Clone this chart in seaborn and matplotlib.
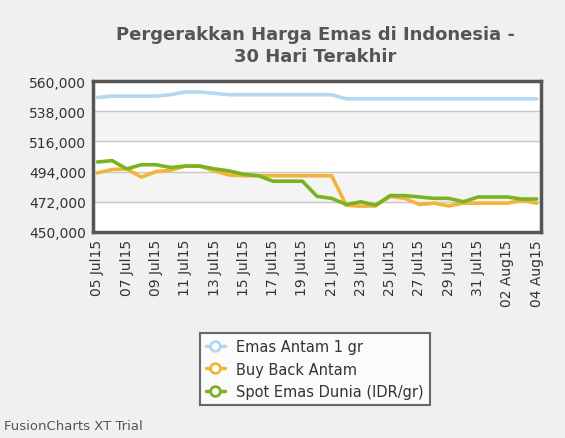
import matplotlib
matplotlib.use("Agg")
import matplotlib.pyplot as plt
import seaborn as sns
import pandas as pd
import numpy as np

dates = ["05 Jul15","06 Jul15","07 Jul15","08 Jul15","09 Jul15","10 Jul15","11 Jul15","12 Jul15",
         "13 Jul15","14 Jul15","15 Jul15","16 Jul15","17 Jul15","18 Jul15","19 Jul15","20 Jul15",
         "21 Jul15","22 Jul15","23 Jul15","24 Jul15","25 Jul15","26 Jul15","27 Jul15","28 Jul15",
         "29 Jul15","30 Jul15","31 Jul15","01 Aug15","02 Aug15","03 Aug15","04 Aug15"]
antam = [548000,549000,549000,549000,549000,550000,552000,552000,551000,550000,550000,550000,550000,
         550000,550000,550000,550000,547000,547000,547000,547000,547000,547000,547000,547000,547000,
         547000,547000,547000,547000,547000]
buyback = [493000,495500,496000,490000,494000,495000,498000,498000,494500,491500,491000,491000,491000,
           491000,491000,491000,491000,469500,468750,469000,476000,474500,470000,471000,469000,471000,
           471000,471000,471000,473000,471000]
spot = [501000,502000,496000,499000,499000,497000,498000,498000,496000,494500,492000,491000,487000,
        487000,487000,476000,474500,470000,472000,469500,476500,476500,475500,474500,474500,472000,
        475500,475500,475500,474000,474000]
series = ["Emas Antam 1 gr", "Buy Back Antam", "Spot Emas Dunia (IDR/gr)"]
colors = ["#b4d8f0", "#f2b53a", "#7cb21f"]
yticks = [450000,472000,494000,516000,538000,560000]

df = pd.DataFrame({"i": list(range(len(dates))) * 3,
                   "v": antam + buyback + spot,
                   "s": [series[0]]*31 + [series[1]]*31 + [series[2]]*31})

sns.set_style("white")
fig = plt.figure(figsize=(5.65, 4.39), dpi=100)
fig.patch.set_facecolor("#f0f0f0")
ax = fig.add_axes([93/565, 1-233/439, 448/565, 151/439])
ax.set_facecolor("white")
for lo, hi in [(472000,494000),(516000,538000)]:
    ax.axhspan(lo, hi, color="#f4f4f4", zorder=0)
sns.lineplot(data=df, x="i", y="v", hue="s", palette=colors, linewidth=2.6, ax=ax, legend=False, zorder=3)
ax.set_ylim(450000, 560000)
ax.set_xlim(-0.3, 30.3)
ax.set_yticks(yticks)
ax.set_yticklabels([f"{t:,}" for t in yticks], fontsize=10, color="#333333")
ax.yaxis.grid(True, color="#c8c8c8", linewidth=1)
ax.set_xticks(list(range(0, 31, 2)))
ax.set_xticklabels(dates[::2], rotation=90, fontsize=10, color="#333333")
ax.tick_params(length=0, pad=5)
ax.set_xlabel(""); ax.set_ylabel("")
for s in ax.spines.values():
    s.set_color("#555555"); s.set_linewidth(2.5)

fig.text(315/565, 1-35/439, "Pergerakkan Harga Emas di Indonesia -", ha="center", va="center",
         fontsize=13, fontweight="bold", color="#555555")
fig.text(315/565, 1-57/439, "30 Hari Terakhir", ha="center", va="center",
         fontsize=13, fontweight="bold", color="#555555")

from matplotlib.lines import Line2D
handles = [Line2D([0],[0], color=c, lw=2.5, marker="o", markersize=7, markerfacecolor="white",
                  markeredgecolor=c, markeredgewidth=2) for c in colors]
leg = fig.legend(handles, series, loc="center", bbox_to_anchor=(315/565, 1-370/439), fontsize=10.5,
                 frameon=True, fancybox=False, handlelength=1.3, labelspacing=0.5)
leg.get_frame().set_edgecolor("#444444"); leg.get_frame().set_linewidth(1.5)
leg.get_frame().set_facecolor("white")
for t in leg.get_texts(): t.set_color("#333333")
fig.text(4/565, 1-427/439, "FusionCharts XT Trial", fontsize=9.5, color="#555555", va="center")
fig.savefig("out.png", dpi=100, facecolor=fig.get_facecolor())
